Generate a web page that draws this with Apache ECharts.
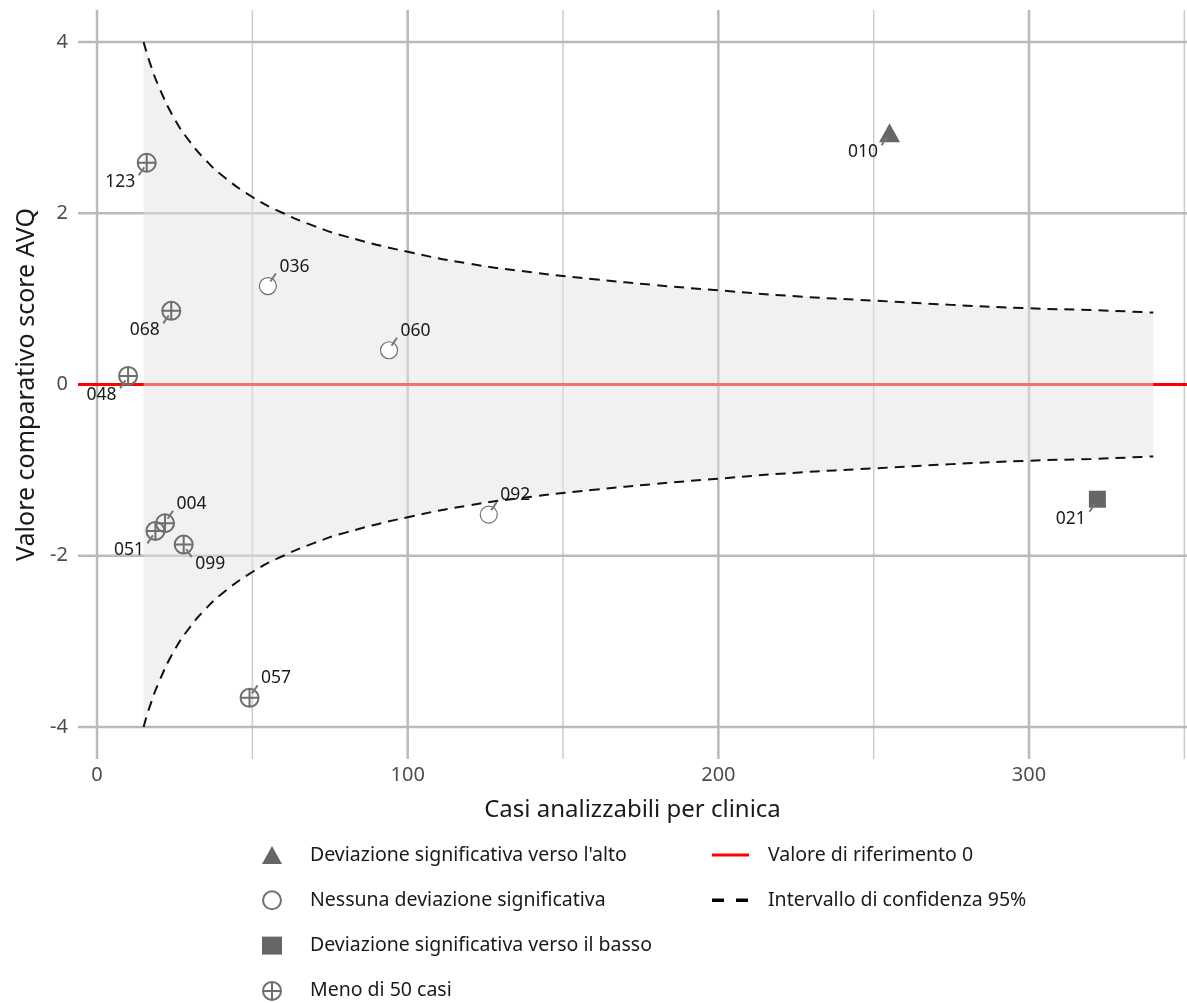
<!DOCTYPE html>
<html>
<head>
<meta charset="utf-8">
<script src="https://cdn.jsdelivr.net/npm/echarts@6/dist/echarts.min.js"></script>
<style>
  html, body { margin: 0; padding: 0; background: #fff; }
  #chart { width: 1187px; height: 1003px; }
</style>
</head>
<body>
<div id="chart"></div>
<script>
// dati
var clinicIds = ['123', '068', '048', '036', '060', '092', '004', '051', '099', '057', '010', '021'];
var cases     = [16.0, 23.9, 10.0, 55.0, 94.0, 126.1, 21.9, 18.8, 27.9, 49.1, 255.1, 322.0];
var scores    = [2.59, 0.86, 0.10, 1.15, 0.40, -1.52, -1.62, -1.71, -1.87, -3.66, 2.94, -1.34];
var groups    = ['meno50', 'meno50', 'meno50', 'nessuna', 'nessuna', 'nessuna', 'meno50', 'meno50', 'meno50', 'meno50', 'alto', 'basso'];
// posizione etichetta: tr = alto destra, bl = basso sinistra, br = basso destra
var labelDir  = ['bl', 'bl', 'bl', 'tr', 'tr', 'tr', 'tr', 'bl', 'br', 'tr', 'bl', 'bl'];

// intervallo di confidenza 95%
var ciN     = [15, 17, 20, 25, 30, 35, 40, 50, 60, 70, 80, 100, 120, 140, 160, 180, 200, 225, 250, 275, 300, 320, 340];
var ciUpper = [4.00, 3.76, 3.47, 3.10, 2.83, 2.62, 2.45, 2.19, 2.00, 1.85, 1.73, 1.55, 1.41, 1.31, 1.23, 1.16, 1.10, 1.03, 0.98, 0.93, 0.89, 0.87, 0.84];
var ciLower = [-4.00, -3.76, -3.47, -3.10, -2.83, -2.62, -2.45, -2.19, -2.00, -1.85, -1.73, -1.55, -1.41, -1.31, -1.23, -1.16, -1.10, -1.03, -0.98, -0.93, -0.89, -0.87, -0.84];

var xMajorTicks = [0, 100, 200, 300];
var xMinorTicks = [50, 150, 250, 350];
var yMajorTicks = [-4, -2, 0, 2, 4];
var xRange = [-6.12, 350.85];
var yRange = [-4.374, 4.374];

var groupNames = {
  alto: 'Deviazione significativa verso l\'alto',
  nessuna: 'Nessuna deviazione significativa',
  basso: 'Deviazione significativa verso il basso',
  meno50: 'Meno di 50 casi'
};
var refName = 'Valore di riferimento 0';
var ciName = 'Intervallo di confidenza 95%';

var FONT = 'Noto Sans';
var crossCircle = 'path://M1,10 A9,9 0 1,1 19,10 A9,9 0 1,1 1,10 Z M10,1 L10,19 M1,10 L19,10';

function pointsOf(g) {
  var out = [];
  for (var i = 0; i < cases.length; i++) {
    if (groups[i] == g) out.push([cases[i], scores[i]]);
  }
  return out;
}

// linee della griglia
var gridLines = [];
xMajorTicks.forEach(function (v) { gridLines.push({ kind: 'x', v: v, major: true }); });
xMinorTicks.forEach(function (v) { gridLines.push({ kind: 'x', v: v, major: false }); });
yMajorTicks.forEach(function (v) { gridLines.push({ kind: 'y', v: v, major: true }); });

var chart = echarts.init(document.getElementById('chart'));

chart.setOption({
  animation: false,
  textStyle: { fontFamily: FONT },
  grid: { left: 78, top: 10, width: 1109, height: 749, containLabel: false },
  xAxis: {
    type: 'value',
    min: xRange[0], max: xRange[1],
    name: 'Casi analizzabili per clinica',
    nameLocation: 'middle',
    nameGap: 39,
    nameTextStyle: { fontSize: 24, color: '#1a1a1a', fontFamily: FONT },
    axisLine: { show: false },
    axisTick: { show: false },
    splitLine: { show: false },
    axisLabel: { customValues: xMajorTicks, fontSize: 20, color: '#4d4d4d', margin: 6, fontFamily: FONT }
  },
  yAxis: {
    type: 'value',
    min: yRange[0], max: yRange[1],
    name: 'Valore comparativo score AVQ',
    nameLocation: 'middle',
    nameGap: 36,
    nameTextStyle: { fontSize: 25, color: '#1a1a1a', fontFamily: FONT },
    axisLine: { show: false },
    axisTick: { show: false },
    splitLine: { show: false },
    axisLabel: { customValues: yMajorTicks, fontSize: 20, color: '#4d4d4d', margin: 10, fontFamily: FONT }
  },
  legend: [{
    orient: 'vertical',
    left: 262, top: 845,
    padding: 0,
    itemWidth: 20, itemHeight: 18, itemGap: 25.3,
    textStyle: { fontSize: 19.5, lineHeight: 20, color: '#1a1a1a', fontFamily: FONT, padding: [0, 0, 0, 23] },
    data: [groupNames.alto, groupNames.nessuna, groupNames.basso, groupNames.meno50]
  }, {
    orient: 'vertical',
    left: 712, top: 845,
    padding: 0,
    itemWidth: 37, itemHeight: 20, itemGap: 25.3,
    textStyle: { fontSize: 19.5, lineHeight: 20, color: '#1a1a1a', fontFamily: FONT, padding: [0, 0, 0, 14] },
    data: [
      { name: refName, icon: 'path://M0,0 H37 V3 H0 Z', itemStyle: { color: '#ff0000' } },
      { name: ciName, icon: 'path://M0,0 H12 V3.5 H0 Z M24,0 H36 V3.5 H24 Z M37,0 V3.5 Z', itemStyle: { color: '#000000' } }
    ]
  }],
  series: [
    {
      // griglia
      type: 'custom',
      silent: true,
      z: 0,
      data: gridLines.map(function (g) { return g.kind == 'x' ? [g.v, 0] : [0, g.v]; }),
      renderItem: function (params, api) {
        var g = gridLines[params.dataIndex];
        var cs = params.coordSys;
        var st = { stroke: g.major ? '#bababa' : '#cdcdcd', lineWidth: g.major ? 2.5 : 1.5 };
        if (g.kind == 'x') {
          var px = api.coord([g.v, 0])[0];
          return { type: 'line', shape: { x1: px, y1: cs.y, x2: px, y2: cs.y + cs.height }, style: st };
        }
        var py = api.coord([0, g.v])[1];
        return { type: 'line', shape: { x1: cs.x, y1: py, x2: cs.x + cs.width, y2: py }, style: st };
      }
    },
    {
      name: refName,
      type: 'line',
      z: 1,
      symbol: 'none',
      silent: true,
      color: '#ff0000',
      lineStyle: { color: '#ff0000', width: 2.8 },
      data: [[xRange[0], 0], [xRange[1], 0]]
    },
    {
      // fascia di confidenza
      type: 'custom',
      silent: true,
      z: 2,
      data: [[ciN[0], 0]],
      renderItem: function (params, api) {
        var pts = [];
        for (var i = 0; i < ciN.length; i++) pts.push(api.coord([ciN[i], ciUpper[i]]));
        for (var j = ciN.length - 1; j >= 0; j--) pts.push(api.coord([ciN[j], ciLower[j]]));
        return { type: 'polygon', shape: { points: pts }, style: { fill: 'rgba(228,228,228,0.5)' } };
      }
    },
    {
      name: ciName,
      type: 'line',
      z: 3,
      symbol: 'none',
      smooth: true,
      silent: true,
      color: '#000',
      lineStyle: { color: '#111', width: 2, type: [10, 7] },
      data: ciN.map(function (n, i) { return [n, ciUpper[i]]; })
    },
    {
      name: ciName,
      type: 'line',
      z: 3,
      symbol: 'none',
      smooth: true,
      silent: true,
      color: '#000',
      lineStyle: { color: '#111', width: 2, type: [10, 7] },
      data: ciN.map(function (n, i) { return [n, ciLower[i]]; })
    },
    {
      name: groupNames.alto,
      type: 'scatter',
      z: 4,
      symbol: 'triangle',
      symbolSize: [21, 19],
      itemStyle: { color: '#666666', opacity: 1 },
      data: pointsOf('alto')
    },
    {
      name: groupNames.nessuna,
      type: 'scatter',
      z: 4,
      symbol: 'circle',
      symbolSize: 17,
      itemStyle: { color: '#ffffff', borderColor: '#707070', borderWidth: 1.2, opacity: 1 },
      data: pointsOf('nessuna')
    },
    {
      name: groupNames.basso,
      type: 'scatter',
      z: 4,
      symbol: 'rect',
      symbolSize: 17,
      itemStyle: { color: '#666666', opacity: 1 },
      data: pointsOf('basso')
    },
    {
      name: groupNames.meno50,
      type: 'scatter',
      z: 4,
      symbol: crossCircle,
      symbolSize: 18,
      itemStyle: { color: 'rgba(255,255,255,0)', borderColor: '#6e6e6e', borderWidth: 2, opacity: 1 },
      data: pointsOf('meno50')
    },
    {
      // etichette delle cliniche con linea guida
      type: 'custom',
      silent: true,
      z: 5,
      data: cases.map(function (c, i) { return [c, scores[i]]; }),
      renderItem: function (params, api) {
        var i = params.dataIndex;
        var p = api.coord([api.value(0), api.value(1)]);
        var d = labelDir[i];
        var sx = d == 'tr' || d == 'br' ? 1 : -1;
        var sy = d == 'tr' ? -1 : 1;
        return {
          type: 'group',
          children: [{
            type: 'line',
            shape: { x1: p[0] + sx * 2.5, y1: p[1] + sy * 4.5, x2: p[0] + sx * 8, y2: p[1] + sy * 12.5 },
            style: { stroke: '#777777', lineWidth: 2 }
          }, {
            type: 'text',
            x: p[0] + sx * 11.5,
            y: p[1] + sy * 19.5,
            style: {
              text: clinicIds[i],
              fill: '#1a1a1a',
              font: '17.5px "' + FONT + '"',
              align: sx > 0 ? 'left' : 'right',
              verticalAlign: 'middle'
            }
          }]
        };
      }
    }
  ]
});
</script>
</body>
</html>
